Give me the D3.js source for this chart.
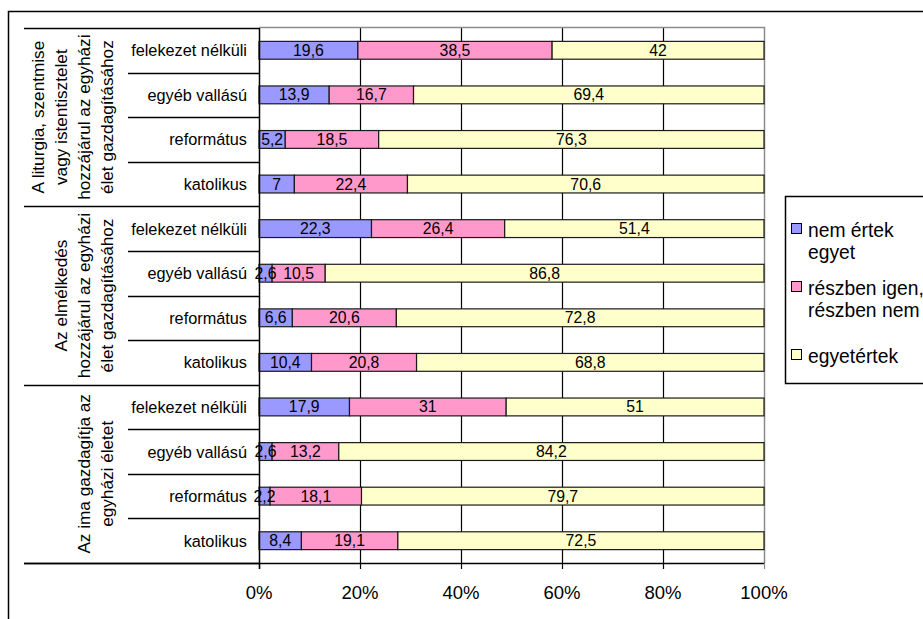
<!DOCTYPE html>
<html>
<head>
<meta charset="utf-8">
<script src="https://cdn.jsdelivr.net/npm/d3@7"></script>
<style>
  html, body { margin: 0; padding: 0; background: #fff; }
  svg { display: block; font-family: "Liberation Sans", Arial, sans-serif; }
</style>
</head>
<body>
<svg id="chart" width="923" height="619"></svg>
<script>
// Statement groups (top to bottom), each split into four denominations
const groups = [
  ["A liturgia, szentmise", "vagy istentisztelet", "hozzájárul az egyházi", "élet gazdagításához"],
  ["Az elmélkedés", "hozzájárul az egyházi", "élet gazdagításához"],
  ["Az ima gazdagítja az", "egyházi életet"]
];
const denominations = ["felekezet nélküli", "egyéb vallású", "református", "katolikus"];

// Series values, row by row: 3 groups x 4 denominations
const nemErtekEgyet = [19.6, 13.9, 5.2, 7, 22.3, 2.6, 6.6, 10.4, 17.9, 2.6, 2.2, 8.4];
const reszbenIgenNem = [38.5, 16.7, 18.5, 22.4, 26.4, 10.5, 20.6, 20.8, 31, 13.2, 18.1, 19.1];
const egyetertek = [42, 69.4, 76.3, 70.6, 51.4, 86.8, 72.8, 68.8, 51, 84.2, 79.7, 72.5];

const seriesNames = ["nem értek egyet", "részben igen, részben nem", "egyetértek"];
const legendLines = [["nem értek", "egyet"], ["részben igen,", "részben nem"], ["egyetértek"]];
const seriesColors = ["#9999FF", "#FF99CC", "#FFFFCC"];
const tickValues = [0, 0.2, 0.4, 0.6, 0.8, 1];

const svg = d3.select("#chart");

// outer chart frame (continues past the right and bottom edges)
svg.append("rect").attr("x", 8.5).attr("y", 11.5).attr("width", 1000).attr("height", 700)
  .attr("fill", "#fff").attr("stroke", "#000").attr("stroke-width", 1.5);

const plot = { left: 259, right: 764, top: 28, bottom: 563 };

const rows = d3.range(groups.length * denominations.length);
const y = d3.scaleBand().domain(rows).range([plot.top, plot.bottom])
  .paddingInner(0.6).paddingOuter(0.3);
const x = d3.scaleLinear().domain([0, 1]).range([plot.left, plot.right]);

// stacked, normalised to 100%
const table = rows.map(i => {
  const vals = [nemErtekEgyet[i], reszbenIgenNem[i], egyetertek[i]];
  const total = d3.sum(vals);
  let acc = 0;
  return vals.map((v, s) => {
    const seg = { row: i, s, v, x0: acc / total, x1: (acc + v) / total };
    acc += v;
    return seg;
  });
});

// vertical gridlines
svg.append("g").selectAll("line").data(tickValues.slice(1, -1)).join("line")
  .attr("x1", d => Math.round(x(d)) + 0.5).attr("x2", d => Math.round(x(d)) + 0.5)
  .attr("y1", plot.top).attr("y2", plot.bottom)
  .attr("stroke", "#000").attr("stroke-width", 1.2);

// plot area border (top and right)
svg.append("path")
  .attr("d", `M${plot.left},${plot.top - 0.5}H${plot.right + 0.5}V${plot.bottom}`)
  .attr("fill", "none").attr("stroke", "#8c8c8c").attr("stroke-width", 1.5);

// bars
const segs = table.flat();
svg.append("g").selectAll("rect").data(segs).join("rect")
  .attr("x", d => x(d.x0)).attr("width", d => x(d.x1) - x(d.x0))
  .attr("y", d => y(d.row)).attr("height", y.bandwidth())
  .attr("fill", d => seriesColors[d.s])
  .attr("stroke", "#1a1a1a").attr("stroke-width", 1.2);

// value labels
svg.append("g").selectAll("text").data(segs).join("text")
  .attr("x", d => (x(d.x0) + x(d.x1)) / 2)
  .attr("y", d => y(d.row) + y.bandwidth() / 2 + 5.5)
  .attr("text-anchor", "middle").attr("font-size", 15.8).attr("fill", "#000")
  .text(d => String(d.v).replace(".", ","));

// value axis line and ticks
const step = y.step();
svg.append("line").attr("x1", 24).attr("x2", plot.right + 1)
  .attr("y1", plot.bottom + 0.5).attr("y2", plot.bottom + 0.5)
  .attr("stroke", "#000").attr("stroke-width", 1.5);
svg.append("g").selectAll("line").data(tickValues).join("line")
  .attr("x1", d => Math.round(x(d)) + 0.5).attr("x2", d => Math.round(x(d)) + 0.5)
  .attr("y1", plot.bottom).attr("y2", plot.bottom + 6)
  .attr("stroke", d => d === 1 ? "#8c8c8c" : "#000").attr("stroke-width", 1.2);
svg.append("g").selectAll("text").data(tickValues).join("text")
  .attr("x", d => x(d)).attr("y", plot.bottom + 36)
  .attr("text-anchor", "middle").attr("font-size", 18.5)
  .text(d => d3.format(".0%")(d));

// category axis line
svg.append("line").attr("x1", plot.left + 0.5).attr("x2", plot.left + 0.5)
  .attr("y1", plot.top).attr("y2", plot.bottom + 6)
  .attr("stroke", "#000").attr("stroke-width", 1.5);

// row dividers (between denominations) and group dividers
const rowEdges = d3.range(rows.length + 1).map(i => plot.top + i * step);
svg.append("g").selectAll("line").data(rowEdges).join("line")
  .attr("x1", (d, i) => i % denominations.length === 0 ? 24 : 128)
  .attr("x2", plot.left)
  .attr("y1", d => Math.round(d) + 0.5).attr("y2", d => Math.round(d) + 0.5)
  .attr("stroke", "#000").attr("stroke-width", 1.5);

// denomination labels
svg.append("g").selectAll("text").data(rows).join("text")
  .attr("x", 247).attr("y", i => plot.top + (i + 0.5) * step + 6)
  .attr("text-anchor", "end").attr("font-size", 16.3)
  .text(i => denominations[i % denominations.length]);

// rotated group labels
const lineGap = 23;
groups.forEach((lines, g) => {
  const cy = plot.top + (g + 0.5) * step * denominations.length;
  const n = lines.length;
  lines.forEach((ln, k) => {
    const cx = 107 - (n - 1 - k) * lineGap;
    svg.append("text")
      .attr("transform", `translate(${cx + 6},${cy}) rotate(-90)`)
      .attr("text-anchor", "middle").attr("font-size", 17.2)
      .text(ln);
  });
});

// legend
const lg = svg.append("g");
lg.append("rect").attr("x", 785.5).attr("y", 196.5).attr("width", 200).attr("height", 187)
  .attr("fill", "#fff").attr("stroke", "#000").attr("stroke-width", 1.5);
const legendY = [237, 295, 363];
seriesNames.forEach((name, s) => {
  const ly = legendY[s];
  lg.append("rect").attr("x", 791.5).attr("y", ly - 13.5).attr("width", 10).attr("height", 10)
    .attr("fill", seriesColors[s]).attr("stroke", "#000").attr("stroke-width", 1);
  legendLines[s].forEach((t, k) => {
    lg.append("text").attr("x", 808).attr("y", ly + k * 22)
      .attr("font-size", 19.3).text(t);
  });
});
</script>
</body>
</html>
